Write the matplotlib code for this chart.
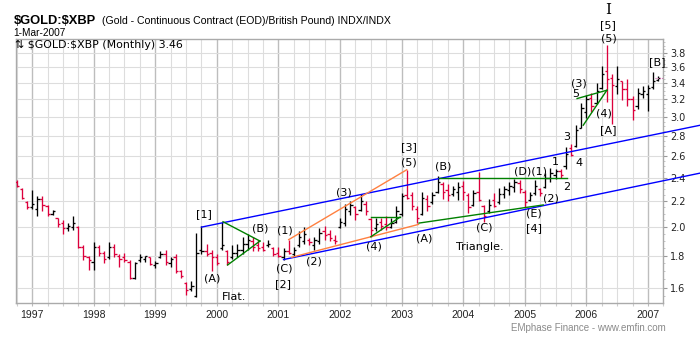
import numpy as np
import matplotlib
matplotlib.use('Agg')
import matplotlib.pyplot as plt
from matplotlib.ticker import FixedLocator, NullFormatter, FuncFormatter

# monthly bars, Oct 1996 .. Mar 2007 (index 0 = Oct 1996)
opens = [2.36, 2.30, 2.19, 2.15, 2.14, 2.22, 2.16, 2.10, 2.07, 2.03, 1.99, 2.00,
         2.00, 1.86, 1.79, 1.76, 1.86, 1.82, 1.79, 1.86, 1.80, 1.79, 1.76, 1.66,
         1.77, 1.78, 1.79, 1.74, 1.79, 1.81, 1.75, 1.79, 1.70, 1.63, 1.59, 1.55,
         1.84, 1.83, 1.82, 1.79, 1.85, 1.83, 1.79, 1.82, 1.84, 1.88, 1.90, 1.87,
         1.86, 1.87, 1.85, 1.82, 1.79, 1.83, 1.81, 1.87, 1.90, 1.91, 1.87, 1.90,
         1.97, 1.95, 1.91, 2.00, 2.03, 2.12, 2.15, 2.13, 2.18, 2.06, 1.99, 2.04,
         2.02, 2.00, 2.04, 2.10, 2.25, 2.25, 2.14, 2.10, 2.22, 2.19, 2.28, 2.34,
         2.29, 2.26, 2.28, 2.33, 2.25, 2.17, 2.28, 2.16, 2.12, 2.21, 2.19, 2.26,
         2.29, 2.32, 2.35, 2.28, 2.21, 2.27, 2.30, 2.32, 2.40, 2.42, 2.46, 2.50,
         2.68, 2.70, 2.88, 3.05, 3.22, 3.16, 3.34, 3.55, 3.46, 3.36, 3.42, 3.33,
         3.20, 3.12, 3.27, 3.26, 3.35, 3.44]
highs = [2.38, 2.31, 2.20, 2.29, 2.24, 2.24, 2.17, 2.13, 2.07, 2.05, 2.03, 2.08,
         2.01, 1.87, 1.80, 1.89, 1.87, 1.83, 1.89, 1.88, 1.81, 1.82, 1.77, 1.76,
         1.81, 1.80, 1.79, 1.765, 1.83, 1.84, 1.79, 1.81, 1.71, 1.635, 1.64, 1.96,
         2.01, 1.88, 1.84, 1.81, 2.04, 1.84, 1.87, 1.88, 1.93, 1.95, 1.93, 1.91,
         1.89, 1.91, 1.86, 1.86, 1.85, 1.91, 1.86, 1.97, 2.00, 1.92, 1.93, 1.99,
         2.01, 1.98, 1.94, 2.07, 2.18, 2.20, 2.16, 2.26, 2.20, 2.07, 2.07, 2.07,
         2.08, 2.07, 2.16, 2.27, 2.47, 2.28, 2.16, 2.28, 2.25, 2.28, 2.41, 2.36,
         2.34, 2.33, 2.36, 2.37, 2.27, 2.29, 2.45, 2.17, 2.22, 2.27, 2.31, 2.33,
         2.36, 2.39, 2.38, 2.29, 2.28, 2.38, 2.31, 2.44, 2.49, 2.48, 2.48, 2.69,
         2.72, 2.91, 3.16, 3.25, 3.28, 3.40, 3.62, 3.91, 3.52, 3.62, 3.43, 3.45,
         3.24, 3.34, 3.36, 3.37, 3.54, 3.49]
lows = [2.32, 2.22, 2.14, 2.14, 2.08, 2.12, 2.08, 2.09, 2.00, 1.95, 1.97, 1.98,
        1.85, 1.77, 1.71, 1.71, 1.80, 1.75, 1.78, 1.79, 1.73, 1.76, 1.65, 1.65,
        1.76, 1.76, 1.74, 1.72, 1.785, 1.74, 1.73, 1.69, 1.66, 1.56, 1.58, 1.545,
        1.81, 1.80, 1.70, 1.74, 1.84, 1.74, 1.78, 1.79, 1.81, 1.84, 1.83, 1.83,
        1.83, 1.86, 1.80, 1.79, 1.77, 1.81, 1.79, 1.86, 1.88, 1.87, 1.84, 1.88,
        1.91, 1.90, 1.88, 1.99, 2.01, 2.09, 2.05, 2.12, 2.09, 1.93, 1.97, 1.98,
        1.98, 1.99, 2.03, 2.08, 2.22, 2.13, 2.03, 2.09, 2.12, 2.18, 2.27, 2.22,
        2.20, 2.24, 2.21, 2.21, 2.11, 2.16, 2.20, 2.04, 2.11, 2.15, 2.18, 2.23,
        2.25, 2.28, 2.27, 2.15, 2.20, 2.25, 2.24, 2.31, 2.36, 2.39, 2.40, 2.48,
        2.60, 2.69, 2.88, 2.99, 3.05, 3.15, 3.32, 3.17, 2.92, 3.27, 3.19, 3.12,
        2.97, 3.09, 3.22, 3.07, 3.32, 3.43]
closes = [2.33, 2.23, 2.15, 2.18, 2.22, 2.17, 2.10, 2.12, 2.02, 1.99, 2.01, 2.03,
          1.86, 1.80, 1.77, 1.86, 1.82, 1.78, 1.86, 1.81, 1.78, 1.77, 1.66, 1.75,
          1.79, 1.80, 1.745, 1.755, 1.81, 1.76, 1.78, 1.70, 1.67, 1.585, 1.61, 1.82,
          1.83, 1.81, 1.79, 1.75, 1.87, 1.76, 1.82, 1.84, 1.88, 1.91, 1.86, 1.85,
          1.84, 1.88, 1.81, 1.80, 1.83, 1.82, 1.84, 1.93, 1.95, 1.89, 1.91, 1.96,
          1.94, 1.92, 1.90, 2.04, 2.14, 2.17, 2.10, 2.20, 2.12, 1.98, 2.02, 2.01,
          2.00, 2.03, 2.12, 2.24, 2.23, 2.16, 2.07, 2.23, 2.16, 2.25, 2.36, 2.28,
          2.25, 2.30, 2.32, 2.28, 2.15, 2.27, 2.21, 2.08, 2.17, 2.16, 2.26, 2.30,
          2.33, 2.36, 2.30, 2.19, 2.25, 2.33, 2.27, 2.40, 2.44, 2.46, 2.42, 2.62,
          2.61, 2.86, 3.10, 3.20, 3.12, 3.30, 3.52, 3.45, 3.38, 3.45, 3.32, 3.20,
          3.08, 3.28, 3.30, 3.34, 3.42, 3.46]

years = list(range(1997, 2008))
first_january = 3  # bar index of Jan 1997
price_ticks = [1.6, 1.8, 2.0, 2.2, 2.4, 2.6, 2.8, 3.0, 3.2, 3.4, 3.6, 3.8]

# Elliott wave labels: (bar index, price, text)
wave_labels = [
    (36.4, 2.10, '[1]'), (38.0, 1.656, '(A)'), (42.3, 1.546, 'Flat.'),
    (47.4, 1.99, '(B)'), (52.3, 1.973, '(1)'), (52.1, 1.718, '(C)'),
    (51.9, 1.622, '[2]'), (58.0, 1.761, '(2)'), (63.7, 2.27, '(3)'),
    (69.6, 1.865, '(4)'), (76.5, 2.68, '[3]'), (76.5, 2.535, '(5)'),
    (79.4, 1.919, '(A)'), (83.2, 2.504, '(B)'), (90.3, 1.859, 'Triangle.'),
    (91.2, 1.995, '(C)'), (100.1, 2.452, '(D)(1)'), (104.2, 2.223, '(2)'),
    (100.7, 2.104, '(E)'), (100.9, 1.99, '[4]'), (104.9, 2.538, '1'),
    (107.1, 2.32, '2'), (107.1, 2.79, '3'), (109.6, 2.529, '4'),
    (109.0, 3.265, '5'), (109.5, 3.395, '(3)'), (114.5, 3.039, '(4)'),
    (115.3, 2.859, '[A]'), (115.3, 4.007, '(5)'), (115.3, 4.21, '[5]'),
    (124.8, 3.675, '[B]'),
]

# trend lines: (x0, p0, x1, p1, colour)
trend_lines = [
    (36.0, 2.00, 133.2, 2.91, '#0000ff'),
    (52.0, 1.775, 133.2, 2.44, '#0000ff'),
    (53.0, 1.91, 76.0, 2.47, '#ff8040'),
    (53.6, 1.79, 78.3, 2.02, '#ff8040'),
    (40.2, 2.04, 47.4, 1.90, '#008000'),
    (41.1, 1.74, 47.4, 1.90, '#008000'),
    (69.0, 2.075, 74.7, 2.075, '#008000'),
    (69.0, 1.93, 74.7, 2.075, '#008000'),
    (82.2, 2.40, 107.2, 2.40, '#008000'),
    (78.4, 2.03, 102.6, 2.17, '#008000'),
    (109.2, 3.21, 115.0, 3.31, '#008000'),
    (110.4, 2.91, 115.0, 3.31, '#008000'),
]

UP = '#000000'
DOWN = '#dc003c'


def barColours(o, c):
    prev = [o[0]] + list(c[:-1])
    return [DOWN if c[i] < prev[i] else UP for i in range(len(c))]


def plotOHLC(ax, o, h, l, c):
    x = np.arange(len(c))
    cols = barColours(o, c)
    w = 0.45
    ax.vlines(x, l, h, colors=cols, linewidth=0.95, zorder=3)
    ax.hlines(o, x - w, x, colors=cols, linewidth=0.95, zorder=3)
    ax.hlines(c, x, x + w, colors=cols, linewidth=0.95, zorder=3)


def main():
    fig = plt.figure(figsize=(7, 3.38), dpi=100)
    ax = fig.add_axes([15.7 / 700, 1 - 303.3 / 338, (663.3 - 15.7) / 700, (303.3 - 38.5) / 338])

    n = len(closes)
    ax.set_yscale('log')
    ax.set_ylim(1.511, 4.004)
    ax.set_xlim(-0.2, 126.0)

    # grid: quarterly light lines, darker at each January
    for q in range(0, n + 1, 3):
        yearLine = (q - first_january) % 12 == 0
        ax.axvline(q, color='#bdbdbd' if yearLine else '#dddddd',
                   linewidth=1.0 if yearLine else 0.8, zorder=1)
    for p in price_ticks:
        ax.axhline(p, color='#dddddd', linewidth=0.8, zorder=1)

    plotOHLC(ax, opens, highs, lows, closes)

    for (x0, p0, x1, p1, col) in trend_lines:
        ax.plot([x0, x1], [p0, p1], color=col, linewidth=1.0, zorder=4, clip_on=False)

    # last price marker
    ax.hlines(closes[-1], n - 1.6, n + 0.2, colors='#cc66aa', linestyles=(0, (1, 1)),
              linewidth=0.8, zorder=4)

    for (x, p, s) in wave_labels:
        ax.text(x, p, s, ha='center', va='center', fontsize=8, family='DejaVu Sans',
                color='#000000', clip_on=False, zorder=5)
    ax.text(115.3, 4.45, 'I', ha='center', va='center', fontsize=11,
            family='DejaVu Serif', clip_on=False)

    # axes and ticks
    ax.yaxis.tick_right()
    ax.yaxis.set_major_locator(FixedLocator(price_ticks))
    ax.yaxis.set_major_formatter(FuncFormatter(lambda v, pos: '%.1f' % v))
    ax.yaxis.set_minor_locator(FixedLocator(np.arange(1.55, 4.0, 0.05)))
    ax.yaxis.set_minor_formatter(NullFormatter())
    ax.tick_params(axis='y', which='major', length=3, width=0.8, color='#999999',
                   pad=2, labelsize=7, labelcolor='#222222')
    ax.tick_params(axis='y', which='minor', length=1.5, width=0.6, color='#bbbbbb')
    for lab in ax.get_yticklabels():
        lab.set_family('DejaVu Sans')
        lab.set_fontsize(7)

    year_pos = [first_january + 12 * k for k in range(len(years))]
    ax.xaxis.set_major_locator(FixedLocator(year_pos))
    ax.set_xticklabels([str(y) for y in years])
    ax.xaxis.set_minor_locator(FixedLocator(list(range(0, n + 1, 3))))
    ax.tick_params(axis='x', which='major', length=2, width=0.8, color='#bbbbbb',
                   pad=3, labelsize=7.5, labelcolor='#222222')
    ax.tick_params(axis='x', which='minor', length=2, width=0.8, color='#cccccc')
    for lab in ax.get_xticklabels():
        lab.set_family('Liberation Sans')

    for s in ax.spines.values():
        s.set_color('#aaaaaa')
        s.set_linewidth(1.0)

    # header and footer
    fig.text(14 / 700, 1 - 24 / 338, '$GOLD:$XBP', fontsize=9.3, fontweight='bold',
             family='Liberation Sans', va='baseline', parse_math=False)
    fig.text(102 / 700, 1 - 24 / 338, '(Gold - Continuous Contract (EOD)/British Pound) INDX/INDX',
             fontsize=7.6, family='Liberation Sans', va='baseline')
    fig.text(13 / 700, 1 - 35.5 / 338, '1-Mar-2007', fontsize=7.3, family='Liberation Sans',
             va='baseline')
    fig.text(15 / 700, 1 - 48.5 / 338, '\u21c5 $GOLD:$XBP (Monthly) 3.46', fontsize=7.9,
             family='DejaVu Sans', va='baseline', parse_math=False)
    fig.text(666 / 700, 1 - 331 / 338, 'EMphase Finance - www.emfin.com', fontsize=7,
             family='Liberation Sans', color='#8a8a8a', ha='right', va='baseline')

    fig.savefig('out.png', dpi=100)


if __name__ == '__main__':
    main()
